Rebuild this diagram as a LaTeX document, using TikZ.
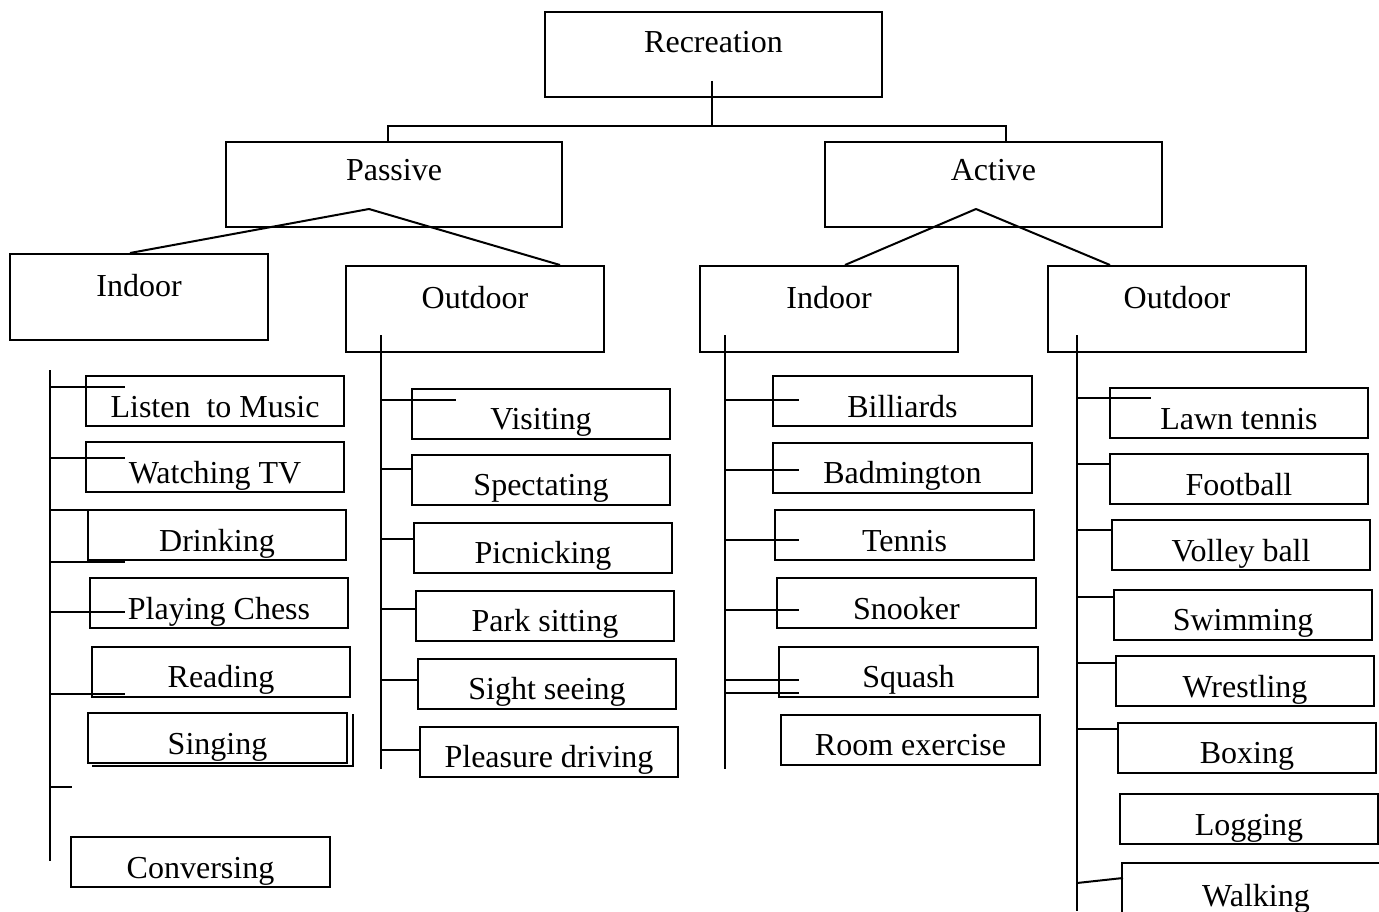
\documentclass[tikz,border=0pt]{standalone}
\usepackage{fontspec}
\setmainfont{Liberation Serif}
\usetikzlibrary{calc}
\newcommand\tick[4]{\draw[ln] ([shift={(#2,#3)}]#1.west) -- ++(#4,0);}
\begin{document}
\begin{tikzpicture}[x=1pt,y=-1pt,
  ln/.style={line width=2pt},
  box/.style={draw, line width=2pt, inner sep=0pt, font=\fontsize{32}{37}\selectfont},
  head/.style={box, minimum width=337pt, text height=41pt, text depth=44pt},
  sub/.style={box, minimum width=258pt, text height=42pt, text depth=44pt},
  leaf/.style={box, minimum width=258pt, text height=41pt, text depth=9pt}]
\fill[white] (0,0) rectangle (1379,912);
\useasboundingbox (0,0) rectangle (1379,912);

% top levels
\node[head] (rec) at (713.5,54.5) {Recreation};
\node[head, minimum width=336pt, text height=39pt, text depth=46pt] (pas) at (394,184.5) {Passive};
\node[head, text height=39pt, text depth=46pt] (act) at (993.5,184.5) {Active};
\node[sub] (pin) at (139,297) {Indoor};
\node[sub] (pout) at (475,309) {Outdoor};
\node[sub] (ain) at (829,309) {Indoor};
\node[sub] (aout) at (1177,309) {Outdoor};

% passive indoor
\node[leaf] (l1) at (215,401) {Listen~ to Music};
\node[leaf] (l2) at (215,467) {Watching TV};
\node[leaf] (l3) at (217,535) {Drinking};
\node[leaf] (l4) at (219,603) {Playing Chess};
\node[leaf] (l5) at (221,671.5) {Reading};
\node[leaf, minimum width=259pt] (l6) at (217.5,738) {Singing};
\node[leaf, minimum width=259pt] (l7) at (200.5,862) {Conversing};

% passive outdoor
\node[leaf] (o1) at (541,413.5) {Visiting};
\node[leaf] (o2) at (541,479.5) {Spectating};
\node[leaf] (o3) at (543,547.5) {Picnicking};
\node[leaf] (o4) at (545,615.5) {Park sitting};
\node[leaf] (o5) at (547,683.5) {Sight seeing};
\node[leaf] (o6) at (549,751.5) {Pleasure driving};

% active indoor
\node[leaf, minimum width=259pt] (a1) at (902.5,401) {Billiards};
\node[leaf, minimum width=259pt] (a2) at (902.5,467.5) {Badmington};
\node[leaf, minimum width=259pt] (a3) at (904.5,535) {Tennis};
\node[leaf, minimum width=259pt] (a4) at (906.5,603) {Snooker};
\node[leaf, minimum width=259pt] (a5) at (908.5,671.5) {Squash};
\node[leaf, minimum width=259pt] (a6) at (910.5,739.5) {Room exercise};

% active outdoor
\node[leaf] (b1) at (1239,413) {Lawn tennis};
\node[leaf] (b2) at (1239,479) {Football};
\node[leaf] (b3) at (1241,545) {Volley ball};
\node[leaf] (b4) at (1243,614.5) {Swimming};
\node[leaf] (b5) at (1245,681) {Wrestling};
\node[leaf] (b6) at (1247,747.5) {Boxing};
\node[leaf] (b7) at (1249,819) {Logging};
\node[leaf, minimum width=268pt, text height=43pt] (b8) at (1256,889) {Walking};

% top connectors
\coordinate (recj) at ($(rec.south)+(-1.5,-17)$);
\coordinate (hub) at (712,126);
\draw[ln] (recj) -- (hub);
\draw[ln] ([xshift=-6pt]pas.north) |- (hub) -| ([xshift=12.5pt]act.north);
\coordinate (pasj) at (369,209);
\draw[ln] (pasj) -- ([xshift=-9pt]pin.north);
\draw[ln] (pasj) -- ([xshift=-45pt]pout.north east);
\coordinate (actj) at (976,209);
\draw[ln] (actj) -- ([xshift=16pt]ain.north);
\draw[ln] (actj) -- ([xshift=63pt]aout.north west);

% spines
\draw[ln] ([shift={(41,29)}]pin.south west) -- ++(0,491);
\draw[ln] ([shift={(36,-18)}]pout.south west) -- ++(0,434);
\draw[ln] ([shift={(26,-18)}]ain.south west) -- ++(0,434);
\draw[ln] ([shift={(30,-18)}]aout.south west) -- ++(0,576);

% passive indoor ticks
\tick{l1}{-35}{-14}{75}
\tick{l2}{-35}{-9}{75}
\tick{l3}{-37}{-25}{37}
\tick{l3}{-37}{27}{75}
\tick{l4}{-39}{9}{75}
\tick{l5}{-41}{22.5}{75}
\tick{l6}{-37}{49}{22}
\draw[ln] ([shift={(5,2)}]l6.north east) -- ([shift={(5,2)}]l6.south east) -- ([shift={(5,2)}]l6.south west);

% passive outdoor ticks
\tick{o1}{-30}{-13.5}{75}
\tick{o2}{-30}{-10.5}{30}
\tick{o3}{-32}{-8.5}{32}
\tick{o4}{-34}{-6.5}{34}
\tick{o5}{-36}{-3.5}{36}
\tick{o6}{-38}{-1.5}{38}

% active indoor ticks
\tick{a1}{-47}{-1}{74}
\tick{a2}{-47}{2.5}{74}
\tick{a3}{-49}{5}{74}
\tick{a4}{-51}{7}{74}
\tick{a5}{-53}{8.5}{74}
\tick{a5}{-53}{21.5}{74}

% active outdoor ticks
\tick{b1}{-32}{-15}{74}
\tick{b2}{-32}{-15}{32}
\tick{b3}{-34}{-15}{34}
\tick{b4}{-36}{-17.5}{36}
\tick{b5}{-38}{-18}{38}
\tick{b6}{-40}{-18.5}{40}
\draw[ln] ([shift={(-44,-6)}]b8.west) -- ([shift={(2,-11)}]b8.west);
\end{tikzpicture}
\end{document}
